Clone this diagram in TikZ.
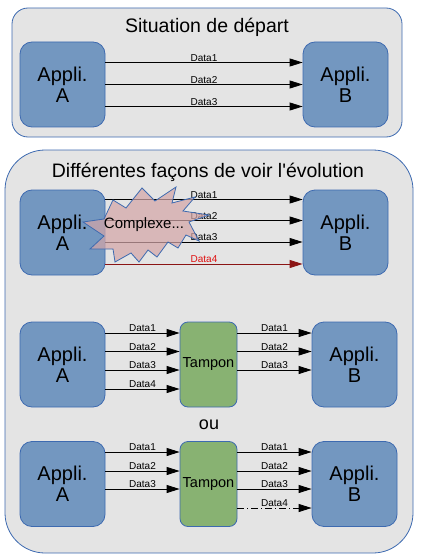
\documentclass[tikz,border=0pt]{standalone}
\usepackage{fontspec}
\setmainfont{Liberation Sans}
\usetikzlibrary{arrows.meta}

\definecolor{fondgris}{HTML}{E4E4E4}
\definecolor{bordbleu}{HTML}{3D6AB0}
\definecolor{appbleu}{HTML}{7397C0}
\definecolor{tampvert}{HTML}{88B272}
\definecolor{roseplx}{HTML}{D4A6A8}
\definecolor{rougefonce}{HTML}{8B1414}
\definecolor{rougevif}{HTML}{E01010}

\begin{document}
\begin{tikzpicture}[
    x=1pt, y=-1pt,
    cadre/.style={draw=bordbleu, fill=fondgris, line width=0.8pt, rectangle, inner sep=0pt},
    appli/.style={draw=bordbleu, fill=appbleu, line width=0.8pt, rounded corners=12pt, minimum width=85pt, minimum height=85pt, align=center, font=\fontsize{20}{21}\selectfont},
    tampon/.style={draw=bordbleu, fill=tampvert, line width=0.8pt, rounded corners=8pt, minimum width=57pt, minimum height=85pt, inner sep=0pt, font=\fontsize{14.5}{16}\selectfont},
    eclat/.style={draw=bordbleu, fill=roseplx, fill opacity=0.72, line width=0.8pt, line join=miter},
    titre/.style={font=\fontsize{19.5}{21}\selectfont, inner sep=0pt},
    flux/.style={draw=black, line width=0.8pt, -{Triangle[length=13pt,width=8pt]}},
    etiq/.style={midway, above, inner sep=0.6pt, font=\fontsize{10}{11}\selectfont}
]
\useasboundingbox (0,0) rectangle (420,559);

% Situation de départ
\node[cadre, rounded corners=16pt, minimum width=390pt, minimum height=129pt] (haut) at (207,72.5) {};
\node[titre] (titrehaut) at (207,27) {Situation de départ};
\node[appli] (a1) at (62.5,84.5) {Appli.\\A};
\node[appli] (b1) at (345.5,84.5) {Appli.\\B};
\draw[flux] ([yshift=22pt]a1.east) -- ([yshift=22pt]b1.west) node[etiq] {Data1};
\draw[flux] (a1.east) -- (b1.west) node[etiq] {Data2};
\draw[flux] ([yshift=-22pt]a1.east) -- ([yshift=-22pt]b1.west) node[etiq] {Data3};

% Différentes façons de voir l'évolution
\node[cadre, rounded corners=40pt, minimum width=408pt, minimum height=403pt] (bas) at (209,351.5) {};
\node[titre] (titrebas) at (208,172) {Différentes façons de voir l\textquotesingle évolution};

% 1. liaison directe
\node[appli] (a2) at (62.5,232.5) {Appli.\\A};
\node[appli] (b2) at (345.5,232.5) {Appli.\\B};
\draw[flux] ([yshift=33pt]a2.east) -- ([yshift=33pt]b2.west) node[etiq] {Data1};
\draw[flux] ([yshift=12pt]a2.east) -- ([yshift=12pt]b2.west) node[etiq] {Data2};
\draw[flux] ([yshift=-9.5pt]a2.east) -- ([yshift=-9.5pt]b2.west) node[etiq] {Data3};
\draw[flux, draw=rougefonce, -{Triangle[length=13pt,width=8pt,fill=rougefonce]}] ([yshift=-31.5pt]a2.east) -- ([yshift=-31.5pt]b2.west) node[etiq, text=rougevif] {Data4};
% éclat
\draw[eclat] (113,200) -- (126,208) -- (142,188) -- (155,201) -- (176,187) -- (172,203)
  -- (195,197) -- (183,211) -- (209,215) -- (189,222) -- (199,241) -- (186,235)
  -- (178,248) -- (168,242) -- (157,257) -- (148,250) -- (139,262) -- (131,253)
  -- (115,262) -- (113,249) -- (90,249) -- (104,236) -- (83,222) -- (104,219) -- cycle;
\node[inner sep=0pt, font=\fontsize{15}{16}\selectfont] (complexe) at (144,225) {Complexe...};

% 2. tampon
\node[appli] (a3) at (62.5,364.5) {Appli.\\A};
\node[tampon] (t3) at (208.5,364.5) {Tampon};
\node[appli] (b3) at (354.5,364.5) {Appli.\\B};
\draw[flux] ([yshift=31.5pt]a3.east) -- ([yshift=31.5pt]t3.west) node[etiq] {Data1};
\draw[flux] ([yshift=13pt]a3.east) -- ([yshift=13pt]t3.west) node[etiq] {Data2};
\draw[flux] ([yshift=-5.5pt]a3.east) -- ([yshift=-5.5pt]t3.west) node[etiq] {Data3};
\draw[flux] ([yshift=-24.5pt]a3.east) -- ([yshift=-24.5pt]t3.west) node[etiq] {Data4};
\draw[flux] ([yshift=31.5pt]t3.east) -- ([yshift=31.5pt]b3.west) node[etiq] {Data1};
\draw[flux] ([yshift=13pt]t3.east) -- ([yshift=13pt]b3.west) node[etiq] {Data2};
\draw[flux] ([yshift=-5.5pt]t3.east) -- ([yshift=-5.5pt]b3.west) node[etiq] {Data3};

\node[titre, font=\fontsize{18}{20}\selectfont] (ou) at (209,425) {ou};

% 3. tampon, Data4 différée
\node[appli] (a4) at (62.5,484) {Appli.\\A};
\node[tampon] (t4) at (208.5,484) {Tampon};
\node[appli] (b4) at (354.5,484) {Appli.\\B};
\draw[flux] ([yshift=32pt]a4.east) -- ([yshift=32pt]t4.west) node[etiq] {Data1};
\draw[flux] ([yshift=13pt]a4.east) -- ([yshift=13pt]t4.west) node[etiq] {Data2};
\draw[flux] ([yshift=-5pt]a4.east) -- ([yshift=-5pt]t4.west) node[etiq] {Data3};
\draw[flux] ([yshift=32pt]t4.east) -- ([yshift=32pt]b4.west) node[etiq] {Data1};
\draw[flux] ([yshift=13pt]t4.east) -- ([yshift=13pt]b4.west) node[etiq] {Data2};
\draw[flux] ([yshift=-5pt]t4.east) -- ([yshift=-5pt]b4.west) node[etiq] {Data3};
\draw[flux, dash pattern=on 7pt off 3pt on 1pt off 3pt] ([yshift=-24pt]t4.east) -- ([yshift=-24pt]b4.west) node[etiq] {Data4};

\end{tikzpicture}
\end{document}
